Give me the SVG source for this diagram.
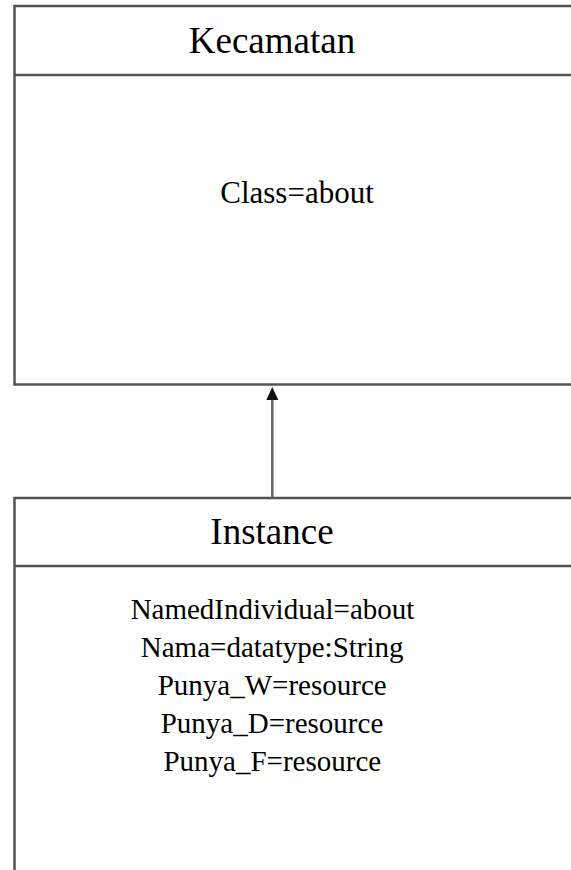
<svg xmlns="http://www.w3.org/2000/svg" width="571" height="870" viewBox="0 0 571 870">
  <rect width="571" height="870" fill="#ffffff"/>

  <!-- class box: Kecamatan -->
  <g id="kecamatan">
    <g fill="#ffffff" stroke="#555555" stroke-width="2.5">
      <rect x="14.5" y="6" width="600" height="378.5"/>
      <line x1="14.5" y1="75" x2="614.5" y2="75"/>
    </g>
    <text x="272" y="53" font-family="Liberation Serif" font-size="37" text-anchor="middle">Kecamatan</text>
    <text x="297" y="203" font-family="Liberation Serif" font-size="31" text-anchor="middle">Class=about</text>
  </g>

  <!-- class box: Instance -->
  <g id="instance">
    <g fill="#ffffff" stroke="#555555" stroke-width="2.5">
      <rect x="14.5" y="498" width="600" height="400"/>
      <line x1="14.5" y1="566" x2="614.5" y2="566"/>
    </g>
    <text x="272" y="544" font-family="Liberation Serif" font-size="37" text-anchor="middle">Instance</text>
    <text x="272.5" y="619" font-family="Liberation Serif" font-size="29" text-anchor="middle">NamedIndividual=about</text>
    <text x="272.2" y="657" font-family="Liberation Serif" font-size="29" text-anchor="middle">Nama=datatype:String</text>
    <text x="272.2" y="695" font-family="Liberation Serif" font-size="29" text-anchor="middle">Punya_W=resource</text>
    <text x="272" y="733" font-family="Liberation Serif" font-size="29" text-anchor="middle">Punya_D=resource</text>
    <text x="272.3" y="771" font-family="Liberation Serif" font-size="29" text-anchor="middle">Punya_F=resource</text>
  </g>

  <!-- connectors -->
  <g id="connectors">
    <line x1="272.3" y1="497" x2="272.3" y2="399" stroke="#666666" stroke-width="2.5"/>
    <path d="M266.3,400 L272.3,387 L278.3,400 Z" fill="#111111"/>
  </g>
</svg>
